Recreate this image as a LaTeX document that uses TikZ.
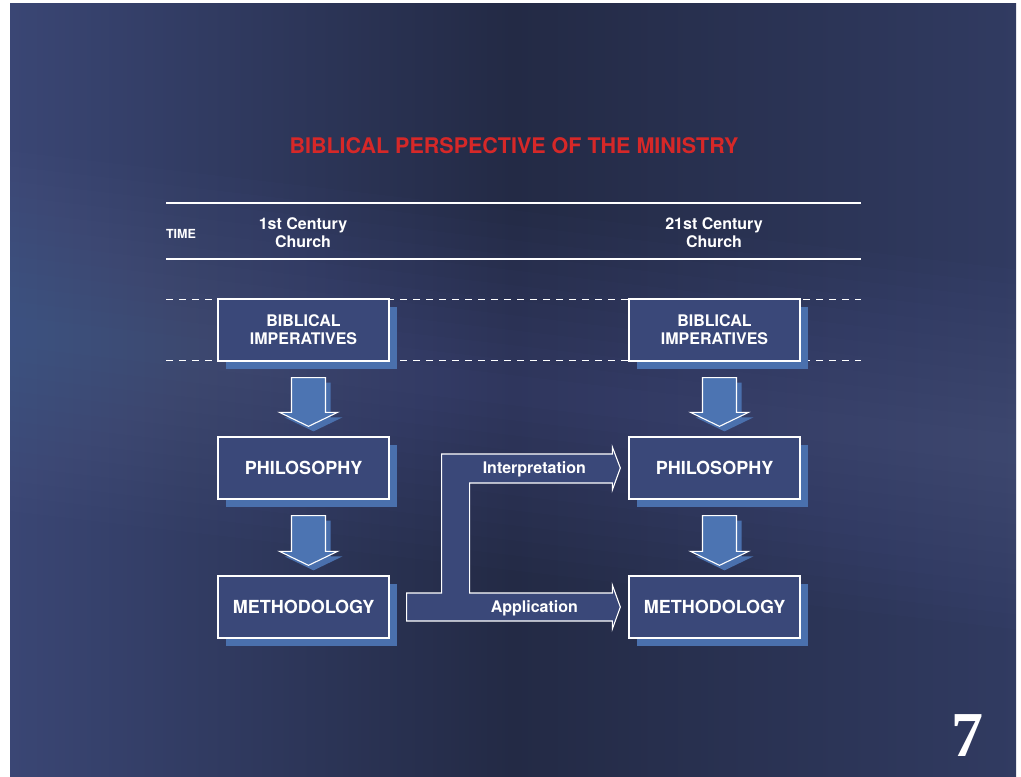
\documentclass[tikz,border=0pt]{standalone}
\usepackage{fontspec}
\setmainfont{TeX Gyre Heros}
\newfontfamily\pagenumfont{Liberation Serif}
\usetikzlibrary{calc,shadows}
\definecolor{slideDark}{RGB}{35,42,69}
\definecolor{slideEdge}{RGB}{58,70,116}
\definecolor{bandBlue}{RGB}{110,130,200}
\definecolor{boxFill}{RGB}{58,72,121}
\definecolor{boxShadow}{RGB}{74,112,173}
\definecolor{arrowFill}{RGB}{76,116,178}
\definecolor{titleRed}{RGB}{214,40,40}

\begin{document}
\begin{tikzpicture}[x=1pt, y=-1pt]%
  \tikzset{stage/.style={draw=white, line width=1.3pt, fill=boxFill, minimum width=171pt, minimum height=62pt,
      drop shadow={fill=boxShadow, opacity=1, shadow xshift=8pt, shadow yshift=-8pt}}}
  \tikzset{block arrow/.style={draw=white, line width=1.1pt, fill=arrowFill,
      drop shadow={fill=boxShadow, opacity=1, shadow xshift=5pt, shadow yshift=-5pt}}}
  \tikzset{bridge/.style={draw=white, line width=1.1pt, fill=boxFill}}
  \tikzset{rule line/.style={white, line width=1.7pt}}
  \tikzset{guide line/.style={white, line width=1pt, dash pattern=on 7pt off 6pt}}
  \tikzstyle{every node}=[text=white, inner sep=0pt, align=center, font=\fontsize{16}{18}\selectfont\bfseries]

  \useasboundingbox (0,0) rectangle (1021,777);

  % slide background
  \begin{scope}
    \clip (10,3) rectangle (1016,777);
    \fill[slideDark] (10,3) rectangle (1016,777);
    \shade[left color=slideEdge, right color=slideEdge!60!slideDark, middle color=slideDark] (10,3) rectangle (1016,777);
    \foreach \w in {15,30,...,180}
      \fill[bandBlue, opacity=0.018] (0,330-\w) -- (1021,450-\w) -- (1021,450+\w) -- (0,330+\w) -- cycle;
  \end{scope}

  \node[text=titleRed, font=\fontsize{21.5}{24}\selectfont\bfseries] at (514,146) (title) {BIBLICAL PERSPECTIVE OF THE MINISTRY};

  % time axis
  \draw[rule line] (166,203) -- (861,203);
  \draw[rule line] (166,259) -- (861,259);
  \node[font=\fontsize{12.5}{14}\selectfont\bfseries] at (181,234) (time) {TIME};
  \node at (303,233) (then) {1st Century\\Church};
  \node at (714,233) (now) {21st Century\\Church};

  \draw[guide line] (166,299) -- (861,299);
  \draw[guide line] (166,360) -- (861,360);

  \node[stage] at (303.5,330) (bi1) {BIBLICAL\\IMPERATIVES};
  \node[stage, font=\fontsize{18}{20}\selectfont\bfseries] at (303.5,468) (ph1) {PHILOSOPHY};
  \node[stage, font=\fontsize{18}{20}\selectfont\bfseries] at (303.5,607) (me1) {METHODOLOGY};
  \node[stage] at (714.5,330) (bi2) {BIBLICAL\\IMPERATIVES};
  \node[stage, font=\fontsize{18}{20}\selectfont\bfseries] at (714.5,468) (ph2) {PHILOSOPHY};
  \node[stage, font=\fontsize{18}{20}\selectfont\bfseries] at (714.5,607) (me2) {METHODOLOGY};

  \foreach \a/\b in {bi1/ph1, ph1/me1, bi2/ph2, ph2/me2}
    \path[block arrow] ($(\a.south)+(-12,16)$) -- ($(\a.south)+(22,16)$) -- ($(\b.north)+(22,-24)$)
      -- ($(\b.north)+(34,-24)$) -- ($(\b.north)+(5,-10)$) -- ($(\b.north)+(-24,-24)$)
      -- ($(\b.north)+(-12,-24)$) -- cycle;

  % forked arrow from old methodology to the new column
  \path[bridge] ($(me1.east)+(17,14)$) -- ++(0,-28) -- ++(35,0) |- ($(ph2.west)+(-16,-14)$)
    -- ++(0,-7) -- ($(ph2.west)+(-8,0)$) -- ++(-8,22) -- ++(0,-7) -| ($(me1.east)+(80,-14)$)
    -- ($(me2.west)+(-16,-14)$) -- ++(0,-8) -- ($(me2.west)+(-8,0)$) -- ++(-8,22) -- ++(0,-8) -- cycle;
  \node at ($(ph2.west)+(-94,1)$) (interp) {Interpretation};
  \node at ($(me2.west)+(-94,1)$) (appl) {Application};

  \node[font=\pagenumfont\bfseries\fontsize{64}{64}\selectfont] at (967,736) (pagenum) {7};
\end{tikzpicture}
\end{document}
